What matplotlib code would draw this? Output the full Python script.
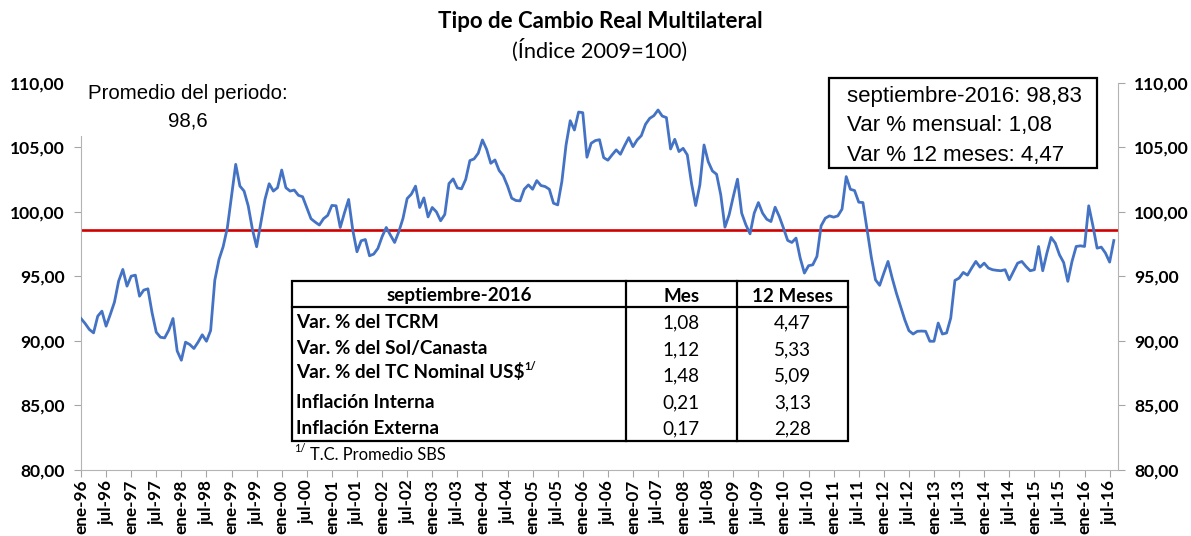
import matplotlib
matplotlib.use("Agg")
import matplotlib.pyplot as plt
from matplotlib.patches import Rectangle
from matplotlib.lines import Line2D
from matplotlib.ticker import FuncFormatter

W, H = 1191, 536

# indice TCRM (2009=100), mensual desde ene-96 hasta ago-16
tcrm = [
    91.73, 91.34, 90.88, 90.62, 91.91, 92.30, 91.14, 92.04, 93.00, 94.63, 95.53, 94.24,  # 1996
    95.01, 95.09, 93.46, 93.93, 94.03, 92.17, 90.67, 90.28, 90.23, 90.83, 91.73, 89.22,  # 1997
    88.50, 89.90, 89.72, 89.41, 89.90, 90.47, 89.97, 90.80, 94.70, 96.30, 97.30, 98.76,  # 1998
    101.20, 103.67, 101.99, 101.60, 100.44, 98.63, 97.29, 99.15, 100.96, 102.17, 101.60, 101.86,  # 1999
    103.23, 101.86, 101.60, 101.68, 101.27, 101.16, 100.31, 99.46, 99.20, 98.97, 99.46, 99.72,  # 2000
    100.49, 100.46, 98.78, 99.91, 100.95, 98.57, 96.90, 97.75, 97.85, 96.59, 96.72, 97.16,  # 2001
    98.06, 98.78, 98.19, 97.62, 98.45, 99.48, 101.02, 101.36, 101.98, 100.33, 101.07, 99.60,  # 2002
    100.33, 99.99, 99.30, 99.79, 102.18, 102.54, 101.85, 101.77, 102.50, 103.96, 104.09, 104.53,  # 2003
    105.56, 104.84, 103.75, 104.01, 103.19, 102.78, 102.00, 101.05, 100.87, 100.84, 101.74, 102.08,  # 2004
    101.74, 102.41, 102.03, 101.95, 101.74, 100.66, 100.53, 102.34, 105.17, 107.05, 106.33, 107.72,  # 2005
    107.67, 104.22, 105.30, 105.51, 105.58, 104.19, 103.99, 104.40, 104.79, 104.45, 105.12, 105.74,  # 2006
    105.04, 105.56, 105.89, 106.77, 107.23, 107.44, 107.88, 107.41, 107.29, 104.86, 105.61, 104.66,  # 2007
    104.91, 104.40, 102.21, 100.48, 102.08, 105.17, 103.88, 103.16, 102.90, 101.31, 98.80, 99.76,  # 2008
    101.18, 102.52, 99.89, 98.99, 98.29, 99.89, 100.71, 99.89, 99.42, 99.24, 100.35, 99.63,  # 2009
    98.73, 97.78, 97.62, 97.96, 96.41, 95.25, 95.82, 95.89, 96.54, 98.91, 99.50, 99.68,  # 2010
    99.58, 99.68, 100.20, 102.72, 101.74, 101.64, 100.74, 100.71, 98.60, 96.49, 94.73, 94.30,  # 2011
    95.25, 96.15, 94.86, 93.70, 92.67, 91.64, 90.79, 90.53, 90.74, 90.76, 90.74, 89.97,  # 2012
    89.97, 91.38, 90.53, 90.61, 91.77, 94.68, 94.86, 95.30, 95.09, 95.64, 96.15, 95.71,  # 2013
    96.02, 95.64, 95.51, 95.46, 95.43, 95.51, 94.73, 95.38, 96.02, 96.15, 95.76, 95.43,  # 2014
    95.51, 97.31, 95.43, 96.80, 98.01, 97.57, 96.67, 96.07, 94.61, 96.15, 97.31, 97.36,  # 2015
    97.31, 100.46, 98.91, 97.18, 97.26, 96.80, 96.10, 97.77,  # 2016
]
promedio = 98.6
n_meses = 249  # eje de ene-96 a sep-16
meses = ["ene", "feb", "mar", "abr", "may", "jun", "jul", "ago", "sep", "oct", "nov", "dic"]

filas = ["Var. % del TCRM", "Var. % del Sol/Canasta", "Var. % del TC Nominal US$",
         "Inflación Interna", "Inflación Externa"]
var_mes = ["1,08", "1,12", "1,48", "0,21", "0,17"]
var_12m = ["4,47", "5,33", "5,09", "3,13", "2,28"]

CAL = ["Lato", "DejaVu Sans"]
ARI = ["Liberation Sans", "DejaVu Sans"]
TAB = 13.6  # tamaño de letra de la tabla


def fx(px):
    return px / W


def fy(py):
    return 1 - py / H


fig = plt.figure(figsize=(W / 100, H / 100), dpi=100)
ax = fig.add_axes([fx(81), fy(470), (1118 - 81) / W, (470 - 82.6) / H])

ax.plot(range(len(tcrm)), tcrm, color="#4472C4", lw=2.0, zorder=3)
ax.axhline(promedio, color="#D00000", lw=1.9, zorder=2)

ax.set_xlim(0, n_meses - 1)
ax.set_ylim(80, 110)
ax.set_yticks(range(80, 111, 5))
ax.yaxis.set_major_formatter(FuncFormatter(lambda v, p: f"{v:.2f}".replace(".", ",")))
xt = list(range(0, n_meses, 6))
ax.set_xticks(xt)
ax.set_xticklabels([f"{meses[i % 12]}-{(96 + i // 12) % 100:02d}" for i in xt],
                   rotation=90, fontsize=12.3, fontweight="bold", family=CAL)

ax.tick_params(axis="y", left=True, right=True, labelleft=True, labelright=True,
               direction="out", length=5, color="#A6A6A6", labelsize=12.6, pad=6.5)
ax.tick_params(axis="x", direction="out", length=5, color="#A6A6A6", pad=2)
for t in ax.yaxis.get_major_ticks():
    for lab in (t.label1, t.label2):
        lab.set_fontweight("bold")
        lab.set_family(CAL)

for s in ["left", "right", "bottom"]:
    ax.spines[s].set_color("#B4B4B4")
ax.spines["top"].set_visible(False)

# titulo
fig.text(fx(600), fy(22), "Tipo de Cambio Real Multilateral", ha="center", va="center",
         fontsize=16, fontweight="bold", family=CAL)
fig.text(fx(600), fy(50), "(Índice 2009=100)", ha="center", va="center",
         fontsize=15.7, family=CAL)

# promedio del periodo
fig.patches.append(Rectangle((fx(70), fy(136)), fx(300) - fx(70), fy(74) - fy(136),
                             transform=fig.transFigure, facecolor="white", edgecolor="none", zorder=2))
fig.text(fx(188), fy(99.3), "Promedio del periodo:", ha="center", va="baseline",
         fontsize=14.7, family=ARI, zorder=4)
fig.text(fx(188), fy(126.7), "98,6", ha="center", va="baseline", fontsize=14.7, family=ARI, zorder=4)

# recuadro septiembre
fig.patches.append(Rectangle((fx(829), fy(167.7)), fx(1096.7) - fx(829), fy(78.3) - fy(167.7),
                             transform=fig.transFigure, facecolor="white", edgecolor="black",
                             lw=1.6, zorder=2))
for yb, txt in zip([101.7, 131, 160.5],
                   ["septiembre-2016: 98,83", "Var % mensual: 1,08", "Var % 12 meses: 4,47"]):
    fig.text(fx(847), fy(yb), txt, ha="left", va="baseline", fontsize=16, family=ARI, zorder=4)

# tabla
tx0, tx1, tx2, tx3 = 291.7, 626, 736.7, 848.3
ty0, ty1, ty2 = 280.7, 307.3, 440.7
fig.patches.append(Rectangle((fx(tx0), fy(ty2)), fx(tx3) - fx(tx0), fy(ty0) - fy(ty2),
                             transform=fig.transFigure, facecolor="white", edgecolor="black",
                             lw=1.6, zorder=2))
fig.lines.append(Line2D([fx(tx0), fx(tx3)], [fy(ty1), fy(ty1)], transform=fig.transFigure,
                        color="black", lw=1.6, zorder=3))
for xv in (tx1, tx2):
    fig.lines.append(Line2D([fx(xv), fx(xv)], [fy(ty0), fy(ty2)], transform=fig.transFigure,
                            color="black", lw=1.6, zorder=3))

c1, c2, c3 = (tx0 + tx1) / 2, (tx1 + tx2) / 2, (tx2 + tx3) / 2
for xc, txt in zip([c1, c2, c3], ["septiembre-2016", "Mes", "12 Meses"]):
    fig.text(fx(xc), fy(301.5), txt, ha="center", va="baseline", fontsize=TAB,
             fontweight="bold", family=CAL, zorder=4)

base_lab = [327.5, 354, 378.5, 408, 434]
base_val = [328, 355, 381.5, 408, 434.5]
etiquetas = []
for k in range(len(filas)):
    t = fig.text(fx(296), fy(base_lab[k]), filas[k], ha="left", va="baseline", fontsize=TAB,
                 fontweight="bold", family=CAL, zorder=4, parse_math=False)
    etiquetas.append(t)
    fig.text(fx(c2), fy(base_val[k]), var_mes[k], ha="center", va="baseline", fontsize=TAB,
             family=CAL, zorder=4)
    fig.text(fx(c3), fy(base_val[k]), var_12m[k], ha="center", va="baseline", fontsize=TAB,
             family=CAL, zorder=4)

# nota al pie
fig.text(fx(294), fy(452), "1/", ha="left", va="baseline", fontsize=8, family=CAL)
fig.text(fx(310), fy(459.5), "T.C. Promedio SBS", ha="left", va="baseline", fontsize=11.9,
         family=CAL)

# superindice de la fila del TC nominal
fig.canvas.draw()
bb = etiquetas[2].get_window_extent()
fig.text(bb.x1 / W, fy(base_lab[2] - 9), "1/", ha="left", va="baseline",
         fontsize=8, fontweight="bold", family=CAL, zorder=4)

fig.savefig("out.png", dpi=100)
